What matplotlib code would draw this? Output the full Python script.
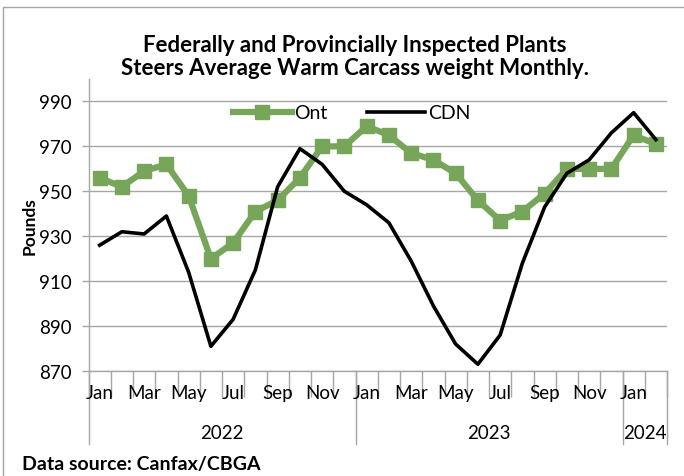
import matplotlib
matplotlib.use('Agg')
from matplotlib import pyplot as plt, patches
from matplotlib.transforms import blended_transform_factory
import numpy as np

plt.rcParams['font.family'] = ['Lato', 'DejaVu Sans']

# Jan 2022 .. Feb 2024
months = ['Jan', 'Feb', 'Mar', 'Apr', 'May', 'Jun', 'Jul', 'Aug', 'Sep', 'Oct', 'Nov', 'Dec'] * 2 + ['Jan', 'Feb']
years = ['2022', '2023', '2024']
year_counts = [12, 12, 2]

ont = [956, 952, 959, 962, 948, 920, 927, 941, 946, 956, 970, 970,
       979, 975, 967, 964, 958, 946, 937, 941, 949, 960, 960, 960,
       975, 971]
cdn = [926, 932, 931, 939, 914, 881, 893, 915, 952, 969, 962, 950,
       944, 936, 919, 899, 882, 873, 886, 918, 943, 958, 964, 976,
       985, 973]

GREEN = '#77A55A'
GRID = '#A6A6A6'
FS = 13.5

fig = plt.figure(figsize=(6.84, 4.77), dpi=100)
ax = fig.add_axes([88.5 / 684, 1 - 372 / 477, (667 - 88.5) / 684, (372 - 80) / 477])

x = np.arange(len(months))
ax.plot(x, ont, color=GREEN, lw=4.5, marker='s', ms=9.5, label='Ont', zorder=3)
ax.plot(x, cdn, color='black', lw=2.6, label='CDN', zorder=4)

ax.set_ylim(870, 1000)
ax.set_yticks(np.arange(870, 1000, 20))
ax.set_xlim(-0.5, len(months) - 0.5)
ax.set_xticks(np.arange(-0.5, len(months), 1))
ax.set_xticklabels([])
ax.tick_params(axis='x', length=19, color=GRID, width=1)
ax.tick_params(axis='y', length=5, color=GRID, width=1, labelsize=FS, pad=7)
ax.grid(axis='y', color=GRID, lw=1)
ax.set_axisbelow(True)
for s in ['top', 'right']:
    ax.spines[s].set_visible(False)
for s in ['left', 'bottom']:
    ax.spines[s].set_color(GRID)
    ax.spines[s].set_linewidth(1)

ax.set_ylabel('Pounds', fontsize=12.5, fontweight='bold', labelpad=1)

# month labels (every other month)
tr = blended_transform_factory(ax.transData, ax.transAxes)
for i, m in enumerate(months):
    if i % 2 == 0:
        ax.text(i, -0.075, m, transform=tr, ha='center', va='center', fontsize=FS)

# year labels and separators
start = 0
bounds = [-0.5]
for yr, n in zip(years, year_counts):
    ax.text(start + (n - 1) / 2, -0.21, yr, transform=tr, ha='center', va='center', fontsize=FS)
    start += n
    bounds.append(start - 0.5)
for b in bounds:
    ax.plot([b, b], [0, -0.25], transform=tr, color=GRID, lw=1, clip_on=False)

ax.legend(loc='center', bbox_to_anchor=(0.455, 0.884), ncol=2, frameon=False,
          fontsize=14, handlelength=3.0, columnspacing=2.0, handletextpad=0.15,
          borderaxespad=0.0)

fig.text(355 / 684, 1 - 57 / 477, 'Federally and Provincially Inspected Plants\nSteers Average Warm Carcass weight Monthly.',
         ha='center', va='center', fontsize=16, fontweight='bold', linespacing=1.15)
fig.text(22 / 684, 1 - 465 / 477, 'Data source: Canfax/CBGA', ha='left', va='center',
         fontsize=14, fontweight='bold')

fig.patches.append(patches.Rectangle((3 / 684, -0.1), 1.1, 1 - 8 / 477 + 0.1, transform=fig.transFigure,
                                     fill=False, edgecolor=GRID, lw=1))

fig.savefig('out.png', dpi=100)
